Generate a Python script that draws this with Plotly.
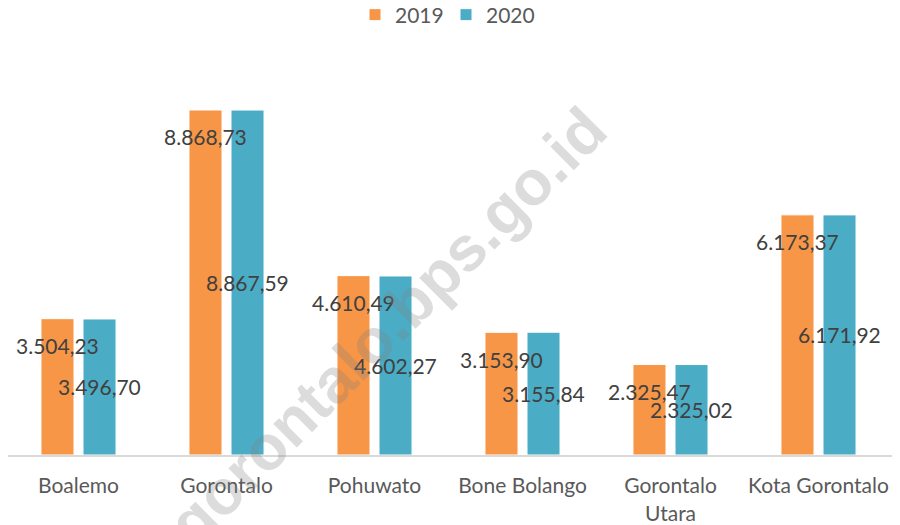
import plotly.graph_objects as go

categories = ["Boalemo", "Gorontalo", "Pohuwato", "Bone Bolango", "Gorontalo<br>Utara", "Kota Gorontalo"]
values_2019 = [3504.23, 8868.73, 4610.49, 3153.90, 2325.47, 6173.37]
values_2020 = [3496.70, 8867.59, 4602.27, 3155.84, 2325.02, 6171.92]
series_names = ["2019", "2020"]

ORANGE = "#F79646"
TEAL = "#4BACC6"
FONT = "Lato"
TXT = "#404040"

# page body adds an 8px offset; margins are in figure coordinates
OFF = 8
ML, MR, MT, MB = 0, 16, 40 - OFF, 70 + OFF
PW, PH = 900 - ML - MR, 525 - MT - MB
CAT_PX = 148.0
X0 = 4.5 - OFF  # figure x of category edge -0.5
x_lo = (ML - X0) / CAT_PX - 0.5
x_hi = (ML + PW - X0) / CAT_PX - 0.5


def fmt(v):
    s = f"{v:,.2f}"
    return s.replace(",", "X").replace(".", ",").replace("X", ".")


fig = go.Figure()
fig.add_trace(go.Bar(name=series_names[0], x=categories, y=values_2019,
                     marker=dict(color=ORANGE, line=dict(color="white", width=1))))
fig.add_trace(go.Bar(name=series_names[1], x=categories, y=values_2020,
                     marker=dict(color=TEAL, line=dict(color="white", width=1))))

annotations = []
for c, v in zip(categories, values_2019):
    annotations.append(dict(x=c, y=v, xref="x", yref="y", text=fmt(v), showarrow=False,
                            xshift=-21, yshift=-27, font=dict(family=FONT, size=21, color=TXT)))
for c, v in zip(categories, values_2020):
    annotations.append(dict(x=c, y=v / 2, xref="x", yref="y", text=fmt(v), showarrow=False,
                            xshift=21, yshift=0, font=dict(family=FONT, size=21, color=TXT)))

# watermark
wx, wy = 387 - OFF, 326 - OFF
annotations.append(dict(x=(wx - ML) / PW, y=(525 - MB - wy) / PH, xref="paper", yref="paper",
                        text="gorontalo.bps.go.id", showarrow=False, textangle=-45,
                        xanchor="center", yanchor="middle",
                        font=dict(family="Liberation Sans", size=63, color="rgba(128,128,128,0.28)",
                                  weight="bold")))

fig.update_layout(
    width=900, height=525,
    margin=dict(l=ML, r=MR, t=MT, b=MB, autoexpand=False),
    paper_bgcolor="white", plot_bgcolor="white",
    barmode="group", bargap=0.432, bargroupgap=0.214,
    font=dict(family=FONT, size=21, color="#595959"),
    legend=dict(orientation="h", x=(446 - OFF) / 900, xanchor="center", xref="container",
                y=1 - (15 - OFF) / 525, yanchor="middle", yref="container",
                entrywidth=46, font=dict(family=FONT, size=21, color="#595959")),
    showlegend=True,
    annotations=annotations,
    xaxis=dict(showline=True, linecolor="#D9D9D9", linewidth=2, ticks="", showgrid=False,
               automargin=False, ticklabelstandoff=11, range=[x_lo, x_hi],
               tickfont=dict(family=FONT, size=21, color="#595959")),
    yaxis=dict(range=[0, 10668], visible=False, showgrid=False, automargin=False),
)

fig.write_html("out.html")
